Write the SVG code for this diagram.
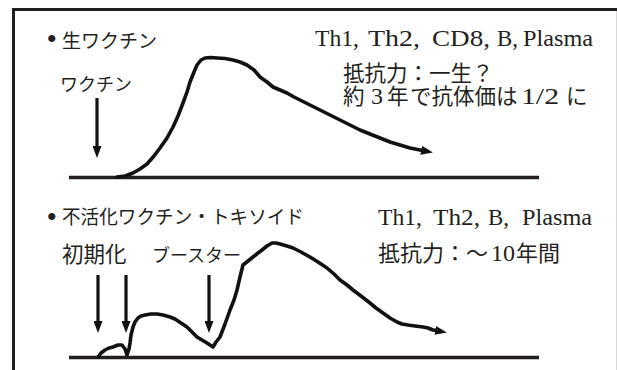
<svg xmlns="http://www.w3.org/2000/svg" width="617" height="370" viewBox="0 0 617 370">
<style>
.j{font-family:"Noto Sans CJK JP",sans-serif;fill:#231f20}
.lat{font-family:"Liberation Serif",serif;fill:#231f20;font-size:24px}
.bul{font-family:"Liberation Serif",serif;fill:#231f20;font-size:30px}
.frame{stroke:#231f20;stroke-width:3;fill:none}
.base{stroke:#231f20;stroke-width:3.5;fill:none}
.curve{stroke:#111;stroke-width:3.6;fill:none;stroke-linejoin:round;stroke-linecap:round;marker-end:url(#ah)}
.arr{stroke:#111;stroke-width:3.2;fill:none;marker-end:url(#ah)}
</style>
<defs>
<marker id="ah" viewBox="0 0 12 9" markerWidth="12" markerHeight="9" refX="6" refY="4.5" orient="auto" markerUnits="userSpaceOnUse">
<path d="M0,0 L12,4.5 L0,9 z" fill="#111"/>
</marker>
</defs>
<rect width="617" height="370" fill="#fff"/>
<g id="frame">
<line class="frame" x1="12" y1="9.5" x2="617" y2="9.5"/>
<line class="frame" x1="13.5" y1="8" x2="13.5" y2="370"/>
<line x1="616.5" y1="11" x2="616.5" y2="370" stroke="#d8d8d8" stroke-width="1"/>
</g>
<g id="live-section">
<g id="live-title"><text class="bul" x="46.5" y="49">•</text><text class="j" x="62" y="48" font-size="19">生ワクチン</text></g>
<g id="live-vaccine-label"><text class="j" x="60" y="91" font-size="18">ワクチン</text></g>
<g id="live-cells">
<text class="lat" x="315" y="46" textLength="44" lengthAdjust="spacingAndGlyphs">Th1,</text>
<text class="lat" x="368" y="46" textLength="52" lengthAdjust="spacingAndGlyphs">Th2,</text>
<text class="lat" x="432" y="46" textLength="58" lengthAdjust="spacingAndGlyphs">CD8,</text>
<text class="lat" x="497" y="46" textLength="21" lengthAdjust="spacingAndGlyphs">B,</text>
<text class="lat" x="523" y="46" textLength="70" lengthAdjust="spacingAndGlyphs">Plasma</text>
</g>
<g id="live-resistance"><text class="j" x="343" y="81" font-size="21.5">抵抗力：一生？</text>
<text class="j" y="104" font-size="21.5"><tspan x="343">約</tspan><tspan class="lat" x="371" font-size="22">3</tspan><tspan x="387">年</tspan><tspan x="410">で抗体価は</tspan><tspan class="lat" x="521" font-size="22" textLength="38" lengthAdjust="spacingAndGlyphs">1/2</tspan><tspan x="566">に</tspan></text></g>
<line class="base" x1="69" y1="177.5" x2="539" y2="177.5"/>
</g>
<g id="inactivated-section">
<g id="inact-title"><text class="bul" x="46.5" y="227">•</text><text class="j" x="62" y="224" font-size="19" textLength="242" lengthAdjust="spacingAndGlyphs">不活化ワクチン・トキソイド</text></g>
<g id="inact-init-label"><text class="j" x="62" y="262" font-size="21.5">初期化</text></g>
<g id="inact-booster-label"><text class="j" x="152" y="262" font-size="18">ブースター</text></g>
<g id="inact-cells">
<text class="lat" x="378" y="225" textLength="44" lengthAdjust="spacingAndGlyphs">Th1,</text>
<text class="lat" x="433" y="225" textLength="47" lengthAdjust="spacingAndGlyphs">Th2,</text>
<text class="lat" x="488" y="225" textLength="21" lengthAdjust="spacingAndGlyphs">B,</text>
<text class="lat" x="522" y="225" textLength="70" lengthAdjust="spacingAndGlyphs">Plasma</text>
</g>
<g id="inact-resistance"><text class="j" y="261" font-size="22"><tspan x="378">抵抗力：～</tspan><tspan class="lat" x="491" font-size="22">10</tspan><tspan x="516">年間</tspan></text></g>
<line class="base" x1="69" y1="357.5" x2="539" y2="357.5"/>
</g>
<g id="connectors">
<line class="arr" x1="97" y1="98" x2="97" y2="152"/>
<line class="arr" x1="98" y1="275" x2="98" y2="327"/>
<line class="arr" x1="126" y1="275" x2="126" y2="327"/>
<line class="arr" x1="209" y1="275" x2="209" y2="327"/>
<path class="curve" d="M117,177 L125,176 133,173 140,169 147,164 154,156 160,148 167,138 173,127 178,116 183,103 187,92 190,82 194,72 197,65 201,60 205,58 211,57.5 217,58 225,58.5 233,60 240,62 247,65 254,70 260,77 267,82 273,87 280,90 287,93 294,97 300,100 310,105 320,110 330,115 340,120 350,125 360,130 370,134 380,138 390,142 400,145 410,148 420,150 427,151.3"/>
<path class="curve" d="M98,357 L101,353 105,350 109,348 113,347 118,345 122,345 125,349 127,355 129,349 130,343 131,335 133,327 135,322 138,318 141,316 145,315 151,314 157,314 163,315 170,317 175,319 181,323 187,327 192,332 197,337 202,340 207,343 213,347 216,342 220,337 225,324 230,310 234,300 237,290 240,277 243,265 248,261 253,257 258,253 262,250 267,246 272,243 276,243 280,244 287,246 293,248 301,252 310,257 318,262 327,268 334,274 340,280 347,285 353,290 361,296 370,303 376,308 383,313 390,318 397,322 402,324 408,325 415,326 423,327 428,328 433,330 441,331.5"/>
</g>
</svg>
